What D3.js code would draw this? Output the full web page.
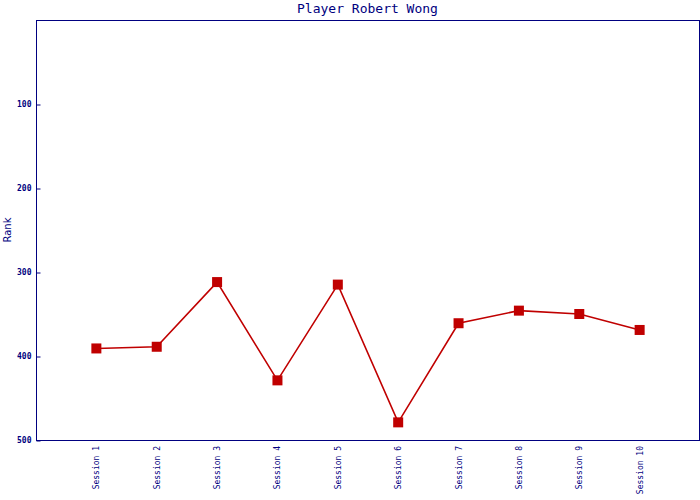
<!DOCTYPE html>
<html><head><meta charset="utf-8">
<script src="https://cdn.jsdelivr.net/npm/d3@7"></script>
<style>body{margin:0;background:#fff}svg{display:block}</style>
</head><body><svg id="c" width="700" height="500"></svg>
<script>
const sessions = ["Session 1","Session 2","Session 3","Session 4","Session 5","Session 6","Session 7","Session 8","Session 9","Session 10"];
const ranks = [391, 389, 312, 429, 315, 479, 361, 346, 350, 369];
const yTicks = [100, 200, 300, 400, 500];
const title = "Player Robert Wong";
const yTitle = "Rank";

const svg = d3.select("#c");
const L = 36, T = 20, R = 699, B = 440;
const navy = "#000080", red = "#c00000";
const x = d3.scaleLinear().domain([0, sessions.length + 1]).range([L, R + 1]);
const y = d3.scaleLinear().domain([0, 500]).range([T, B]);

// frame
svg.append("rect").attr("x", L + 0.5).attr("y", T + 0.5).attr("width", R - L).attr("height", B - T)
  .attr("fill", "none").attr("stroke", navy).attr("stroke-width", 1);

// y axis
const ya = svg.append("g").attr("transform", `translate(${L + 0.5},0)`)
  .call(d3.axisRight(y).tickValues(yTicks).tickSize(4).tickFormat(d3.format("d")));
ya.select(".domain").remove();
ya.selectAll("line").attr("stroke", navy).attr("transform", "translate(0,0.5)");
ya.selectAll("text").attr("x", -5).attr("text-anchor", "end").attr("fill", navy)
  .attr("font-family", "DejaVu Sans Mono").attr("font-weight", "bold").attr("font-size", 8).attr("dy", "0.35em");

// x labels
svg.append("g").selectAll("text").data(sessions).join("text")
  .attr("transform", (d, i) => `translate(${x(i + 1) + 3},${B + 6}) rotate(-90)`)
  .attr("text-anchor", "end").attr("fill", navy)
  .attr("font-family", "DejaVu Sans Mono").attr("font-size", 8).text(d => d);

// title
svg.append("text").attr("x", (L + R) / 2).attr("y", 13).attr("text-anchor", "middle")
  .attr("fill", navy).attr("font-family", "DejaVu Sans Mono").attr("font-size", 13).text(title);
svg.append("text").attr("transform", `translate(11,${(T + B) / 2}) rotate(-90)`).attr("text-anchor", "middle")
  .attr("fill", navy).attr("font-family", "DejaVu Sans").attr("font-size", 10).text(yTitle);

// line
const line = d3.line().x((d, i) => x(i + 1)).y(d => y(d));
svg.append("path").datum(ranks).attr("d", line).attr("fill", "none").attr("stroke", red).attr("stroke-width", 1.6);
svg.append("g").selectAll("rect").data(ranks).join("rect")
  .attr("x", (d, i) => x(i + 1) - 5).attr("y", d => y(d) - 5).attr("width", 10).attr("height", 10).attr("fill", red);
</script></body></html>
